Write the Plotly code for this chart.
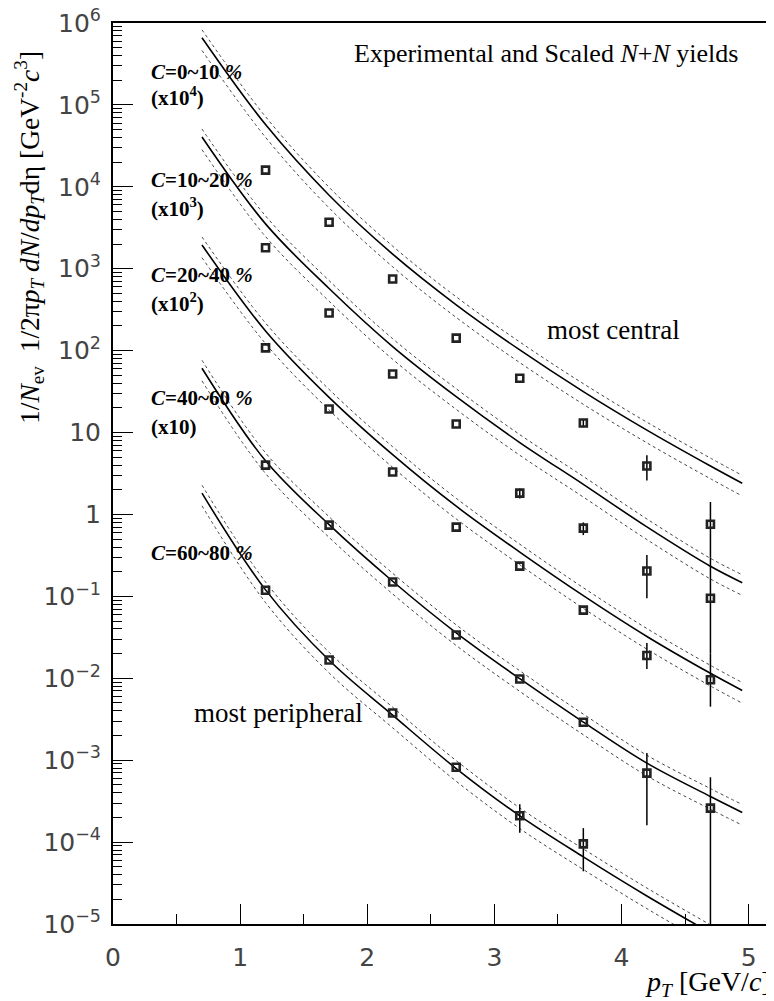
import plotly.graph_objects as go

# ---------------- data ----------------
pt_data = [1.2, 1.7, 2.2, 2.7, 3.2, 3.7, 4.2, 4.7]

y_c0_10 = [1.6e4, 3.7e3, 748, 142, 46, 13.1, 3.9, 0.76]
ep_c0_10 = [0, 0, 0, 0, 0, 1.5, 1.4, 0.66]
em_c0_10 = [0, 0, 0, 0, 0, 1.5, 1.3, 0.46]

y_c10_20 = [1.8e3, 288, 51.8, 12.7, 1.82, 0.68, 0.204, 0.095]
ep_c10_20 = [0, 0, 0, 0, 0.25, 0.12, 0.116, 0.205]
em_c10_20 = [0, 0, 0, 0, 0.25, 0.12, 0.109, 0.075]

y_c20_40 = [108, 19.4, 3.3, 0.70, 0.234, 0.068, 0.019, 0.0096]
ep_c20_40 = [0, 0, 0, 0, 0, 0, 0.008, 0.0104]
em_c20_40 = [0, 0, 0, 0, 0, 0, 0.006, 0.0051]

y_c40_60 = [4.0, 0.74, 0.15, 0.0337, 0.0098, 0.0029, 6.95e-4, 2.6e-4]
ep_c40_60 = [0, 0, 0, 0, 0, 0, 5.25e-4, 3.6e-4]
em_c40_60 = [0, 0, 0, 0, 0, 0, 5.35e-4, 2.599e-4]

y_c60_80 = [0.119, 0.0167, 0.00376, 8.2e-4, 2.1e-4, 9.5e-5, None, None]
ep_c60_80 = [0, 0, 0, 0, 0.8e-4, 5.3e-5, 0, 0]
em_c60_80 = [0, 0, 0, 0, 0.8e-4, 5.1e-5, 0, 0]

# scaled N+N curves (solid) read at these pT
pt_curve = [0.7, 1.2, 1.7, 2.2, 2.7, 3.2, 3.7, 4.2, 4.7, 4.95]
curve_c0_10 = [6.6e5, 5.75e4, 7.9e3, 1.51e3, 363, 102, 31.6, 10.7, 3.9, 2.4]
curve_c10_20 = [4.06e4, 3.53e3, 573, 112, 27.4, 7.55, 2.33, 0.705, 0.233, 0.147]
curve_c20_40 = [1.95e3, 174, 26.9, 5.37, 1.26, 0.347, 0.102, 0.0324, 0.0115, 0.0071]
curve_c40_60 = [61, 4.52, 0.75, 0.153, 0.0359, 0.00989, 0.00292, 9.2e-4, 3.6e-4, 2.3e-4]
curve_c60_80 = [1.82, 0.120, 0.0166, 0.00355, 7.9e-4, 2.09e-4, 6.6e-5, 2.2e-5, 7.8e-6, 4.7e-6]

# uncertainty band (dotted) as factors of the solid curve
band_up = 1.25
band_low = 0.70

series = [
    ("C=0~10 %", y_c0_10, ep_c0_10, em_c0_10, curve_c0_10),
    ("C=10~20 %", y_c10_20, ep_c10_20, em_c10_20, curve_c10_20),
    ("C=20~40 %", y_c20_40, ep_c20_40, em_c20_40, curve_c20_40),
    ("C=40~60 %", y_c40_60, ep_c40_60, em_c40_60, curve_c40_60),
    ("C=60~80 %", y_c60_80, ep_c60_80, em_c60_80, curve_c60_80),
]

# ---------------- figure ----------------
# the page body has an 8px margin, so the figure is placed 8px right/down
OFF = 8
W, H = 774 - OFF, 1001 - OFF
# plot-area edges in page pixels
L, R, T, B = 113, 774, 23, 924

def px(x):
    return (x - L) / (R - L)

def py(y):
    return (B - y) / (B - T)

fig = go.Figure()

for name, yv, ep, em, cv in series:
    fig.add_trace(go.Scatter(x=pt_curve, y=[v * band_up for v in cv], mode="lines",
                             line=dict(color="#444", width=1, dash="dot", shape="spline"),
                             showlegend=False, hoverinfo="skip"))
    fig.add_trace(go.Scatter(x=pt_curve, y=[v * band_low for v in cv], mode="lines",
                             line=dict(color="#444", width=1, dash="dot", shape="spline"),
                             showlegend=False, hoverinfo="skip"))
    fig.add_trace(go.Scatter(x=pt_curve, y=cv, mode="lines",
                             line=dict(color="black", width=1.6, shape="spline"),
                             showlegend=False, name=name))
    fig.add_trace(go.Scatter(x=pt_data, y=yv, mode="markers",
                             marker=dict(symbol="square-open", size=7, color="#222",
                                         line=dict(width=2.6, color="#222")),
                             error_y=dict(type="data", symmetric=False, array=ep, arrayminus=em,
                                          width=0, thickness=1.5, color="black"),
                             showlegend=False, name=name))

serif = "Liberation Serif, Times New Roman, serif"
sans = "DejaVu Sans, Liberation Sans, sans-serif"

annotations = []
# centrality labels
lab_pos = [
    ("<i>C</i>=0~10 <i>%</i>", 72), ("(x10<sup>4</sup>)", 97),
    ("<i>C</i>=10~20 <i>%</i>", 180), ("(x10<sup>3</sup>)", 207),
    ("<i>C</i>=20~40 <i>%</i>", 275), ("(x10<sup>2</sup>)", 302),
    ("<i>C</i>=40~60 <i>%</i>", 398), ("(x10)", 427),
    ("<i>C</i>=60~80 <i>%</i>", 553),
]
for txt, yy in lab_pos:
    annotations.append(dict(text="<b>" + txt + "</b>", x=px(149), y=py(yy), xref="paper", yref="paper",
                            xanchor="left", yanchor="middle", showarrow=False,
                            font=dict(family=serif, size=21, color="black")))

annotations += [
    dict(text="Experimental and Scaled <i>N</i>+<i>N</i> yields", x=px(740), y=py(53),
         xref="paper", yref="paper", xanchor="right", yanchor="middle", showarrow=False,
         font=dict(family=serif, size=26, color="black")),
    dict(text="most central", x=px(545), y=py(330), xref="paper", yref="paper",
         xanchor="left", yanchor="middle", showarrow=False,
         font=dict(family=serif, size=27, color="black")),
    dict(text="most peripheral", x=px(192), y=py(713), xref="paper", yref="paper",
         xanchor="left", yanchor="middle", showarrow=False,
         font=dict(family=serif, size=27, color="black")),
    dict(text="<i>p</i><sub><i>T</i></sub> [GeV/<i>c</i>]", x=px(773), y=py(983),
         xref="paper", yref="paper", xanchor="right", yanchor="middle", showarrow=False,
         font=dict(family=serif, size=28, color="black")),
    dict(text="1/<i>N</i><sub>ev</sub>  1/2π<i>p</i><sub><i>T</i></sub> <i>dN</i>/<i>dp</i><sub><i>T</i></sub>dη [GeV<sup>-2</sup><i>c</i><sup>3</sup>]",
         x=px(29), y=py(238), xref="paper", yref="paper", xanchor="center", yanchor="middle",
         textangle=-90, showarrow=False, font=dict(family=serif, size=27.5, color="black")),
]

fig.update_layout(
    width=W, height=H,
    margin=dict(l=L - OFF, r=W - (R - OFF), t=T - OFF, b=H - (B - OFF), pad=0),
    paper_bgcolor="white", plot_bgcolor="white",
    annotations=annotations,
    xaxis=dict(range=[0, 5.2], dtick=1, tick0=0, ticks="inside", ticklen=20, tickwidth=1.2,
               tickcolor="black", showline=True, linecolor="black", linewidth=1.5, mirror=True,
               showgrid=False, zeroline=False, automargin=False, ticklabeloverflow="allow",
               tickfont=dict(family=sans, size=25, color="#444"), ticklabelstandoff=10,
               minor=dict(dtick=0.5, tick0=0, ticks="inside", ticklen=10, tickwidth=1.2,
                          tickcolor="black", showgrid=False)),
    yaxis=dict(type="log", range=[-5, 6], dtick=1, exponentformat="power", ticks="inside",
               ticklen=20, tickwidth=1.2, tickcolor="black", showline=True, linecolor="black",
               linewidth=2, showgrid=False, zeroline=False, automargin=False,
               ticklabeloverflow="allow",
               tickfont=dict(family=sans, size=20, color="#444"),
               ticklabelstandoff=6,
               minor=dict(dtick="D1", ticks="inside", ticklen=9, tickwidth=1, tickcolor="black",
                          showgrid=False)),
)

fig.write_html("out.html")
